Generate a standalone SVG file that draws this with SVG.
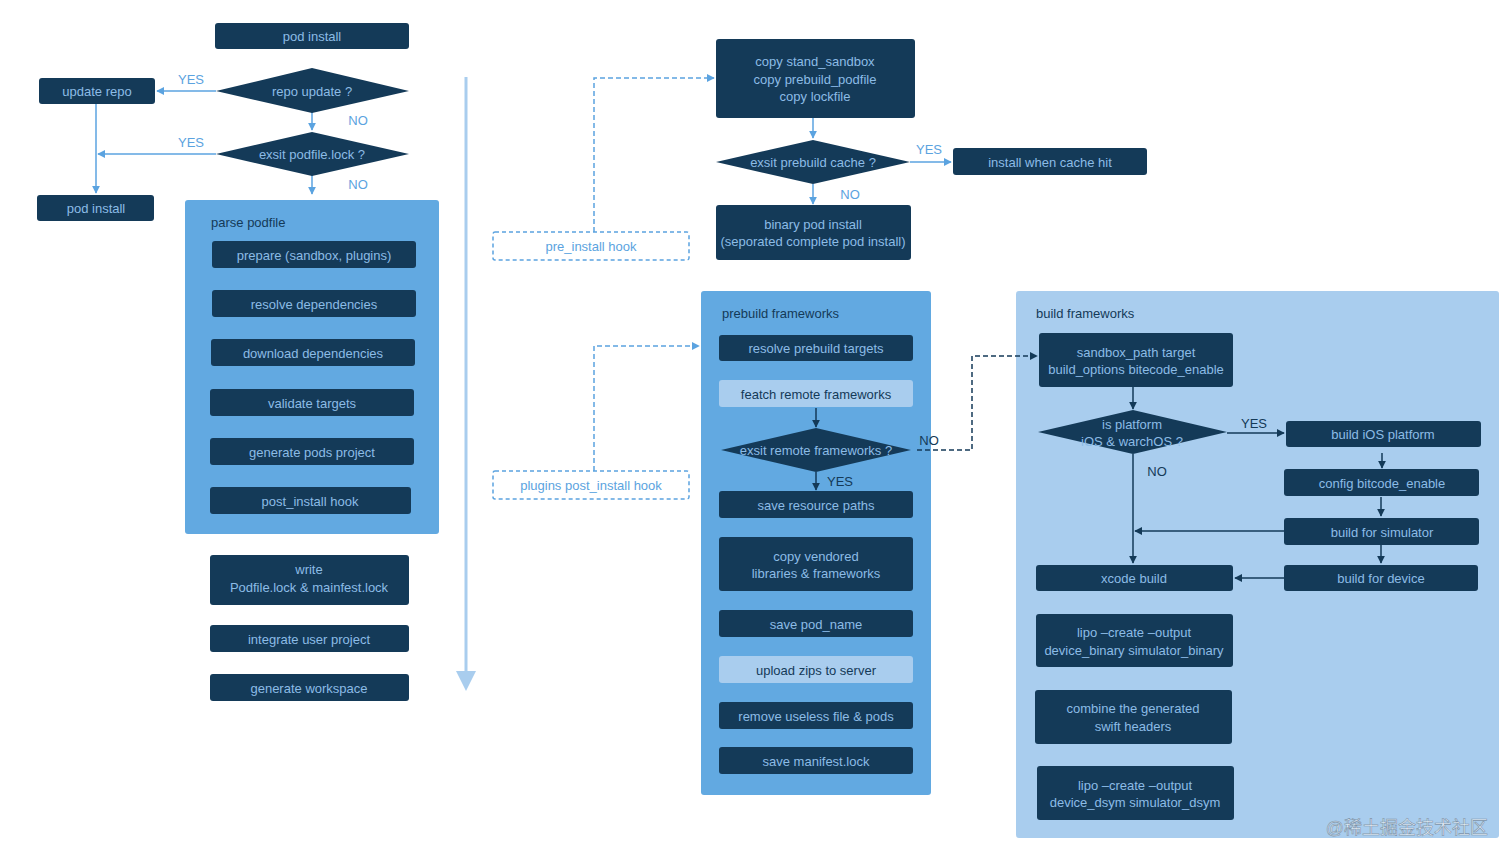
<svg xmlns="http://www.w3.org/2000/svg" width="1512" height="862" viewBox="0 0 1512 862">
<defs>
<style>
.n{fill:#143a58}
.l{fill:#a9cdee}
.t{font-family:"Liberation Sans",Arial,sans-serif;font-size:13px;fill:#8cbce6;text-anchor:middle;dominant-baseline:central}
.td{font-family:"Liberation Sans",Arial,sans-serif;font-size:13px;fill:#143a58;text-anchor:middle;dominant-baseline:central}
.lab{font-family:"Liberation Sans",Arial,sans-serif;font-size:13px;fill:#143a58;dominant-baseline:central}
.yn{font-family:"Liberation Sans",Arial,sans-serif;font-size:13px;fill:#5ba3e0;text-anchor:middle;dominant-baseline:central}
.ynd{font-family:"Liberation Sans",Arial,sans-serif;font-size:13px;fill:#143a58;text-anchor:middle;dominant-baseline:central}
.c{fill:none;stroke:#5ba3e0;stroke-width:1.5}
.cd{fill:none;stroke:#143a58;stroke-width:1.5}
.dash{stroke-dasharray:5 3}
.hb{fill:none;stroke:#5ba3e0;stroke-width:1.5;stroke-dasharray:4 3}
</style>
<marker id="ab" viewBox="0 0 10 10" refX="9" refY="5" markerWidth="8" markerHeight="8" markerUnits="userSpaceOnUse" orient="auto"><path d="M0,0 L10,5 L0,10 z" fill="#5ba3e0"/></marker>
<marker id="ad" viewBox="0 0 10 10" refX="9" refY="5" markerWidth="8" markerHeight="8" markerUnits="userSpaceOnUse" orient="auto"><path d="M0,0 L10,5 L0,10 z" fill="#143a58"/></marker>
</defs>
<rect width="1512" height="862" fill="#ffffff"/>

<!-- containers -->
<g id="parse-podfile"><rect x="185" y="200" width="254" height="334" rx="3" fill="#62a9e1"/><text class="lab" x="211" y="222">parse podfile</text></g>
<g id="prebuild-frameworks"><rect x="701" y="291" width="230" height="504" rx="3" fill="#62a9e1"/><text class="lab" x="722" y="313">prebuild frameworks</text></g>
<g id="build-frameworks"><rect x="1016" y="291" width="483" height="547" rx="3" fill="#a9cdee"/><text class="lab" x="1036" y="313">build frameworks</text></g>

<!-- connectors -->
<g id="connectors">
<line class="c" x1="216" y1="91" x2="157" y2="91" marker-end="url(#ab)"/>
<line class="c" x1="312" y1="112" x2="312" y2="130" marker-end="url(#ab)"/>
<line class="c" x1="216" y1="154" x2="98" y2="154" marker-end="url(#ab)"/>
<line class="c" x1="96" y1="104" x2="96" y2="193" marker-end="url(#ab)"/>
<line class="c" x1="312" y1="175" x2="312" y2="194" marker-end="url(#ab)"/>
<line x1="466" y1="77" x2="466" y2="672" stroke="#a9cdee" stroke-width="3"/>
<path d="M456,671 L476,671 L466,691 z" fill="#a9cdee"/>
<path class="c dash" d="M594,232 L594,78 L714,78" marker-end="url(#ab)"/>
<line class="c" x1="813" y1="118" x2="813" y2="138" marker-end="url(#ab)"/>
<line class="c" x1="910" y1="162" x2="951" y2="162" marker-end="url(#ab)"/>
<line class="c" x1="813" y1="184" x2="813" y2="204" marker-end="url(#ab)"/>
<path class="c dash" d="M594,471 L594,346 L699,346" marker-end="url(#ab)"/>
<line class="cd" x1="816" y1="408" x2="816" y2="427" marker-end="url(#ad)"/>
<line class="cd" x1="816" y1="472" x2="816" y2="490" marker-end="url(#ad)"/>
<path class="cd dash" d="M917,450 L972,450 L972,356 L1037,356" marker-end="url(#ad)"/>
<line class="cd" x1="1133" y1="387" x2="1133" y2="409" marker-end="url(#ad)"/>
<line class="cd" x1="1227" y1="433" x2="1284" y2="433" marker-end="url(#ad)"/>
<line class="cd" x1="1382" y1="453" x2="1382" y2="468" marker-end="url(#ad)"/>
<line class="cd" x1="1381" y1="497" x2="1381" y2="516" marker-end="url(#ad)"/>
<line class="cd" x1="1381" y1="545" x2="1381" y2="563" marker-end="url(#ad)"/>
<line class="cd" x1="1284" y1="578" x2="1235" y2="578" marker-end="url(#ad)"/>
<line class="cd" x1="1284" y1="531" x2="1135" y2="531" marker-end="url(#ad)"/>
<line class="cd" x1="1133" y1="454" x2="1133" y2="563" marker-end="url(#ad)"/>
<text class="yn" x="191" y="79">YES</text>
<text class="yn" x="358" y="120">NO</text>
<text class="yn" x="191" y="142">YES</text>
<text class="yn" x="358" y="184">NO</text>
<text class="yn" x="929" y="149">YES</text>
<text class="yn" x="850" y="194">NO</text>
<text class="ynd" x="929" y="440">NO</text>
<text class="ynd" x="840" y="481">YES</text>
<text class="ynd" x="1254" y="423">YES</text>
<text class="ynd" x="1157" y="471">NO</text>
</g>

<!-- left column -->
<g id="pod-install-top"><rect class="n" x="215" y="23" width="194" height="26" rx="3"/><text class="t" x="312" y="36">pod install</text></g>
<g id="repo-update"><polygon class="n" points="216,91 312,68 409,91 312,113"/><text class="t" x="312" y="91">repo update ?</text></g>
<g id="update-repo"><rect class="n" x="39" y="78" width="116" height="26" rx="3"/><text class="t" x="97" y="91">update repo</text></g>
<g id="exsit-podfile-lock"><polygon class="n" points="216,154 312,132 409,154 312,176"/><text class="t" x="312" y="154">exsit podfile.lock ?</text></g>
<g id="pod-install-2"><rect class="n" x="37" y="195" width="117" height="26" rx="3"/><text class="t" x="96" y="208">pod install</text></g>
<g id="prepare"><rect class="n" x="212" y="241" width="204" height="27" rx="3"/><text class="t" x="314" y="255">prepare (sandbox, plugins)</text></g>
<g id="resolve-deps"><rect class="n" x="212" y="290" width="204" height="27" rx="3"/><text class="t" x="314" y="304">resolve dependencies</text></g>
<g id="download-deps"><rect class="n" x="211" y="339" width="204" height="27" rx="3"/><text class="t" x="313" y="353">download dependencies</text></g>
<g id="validate-targets"><rect class="n" x="210" y="389" width="204" height="27" rx="3"/><text class="t" x="312" y="403">validate targets</text></g>
<g id="generate-pods-project"><rect class="n" x="210" y="438" width="204" height="27" rx="3"/><text class="t" x="312" y="452">generate pods project</text></g>
<g id="post-install-hook"><rect class="n" x="210" y="487" width="201" height="27" rx="3"/><text class="t" x="310" y="501">post_install hook</text></g>
<g id="write-lock"><rect class="n" x="210" y="555" width="199" height="50" rx="3"/><text class="t" x="309" y="569">write</text><text class="t" x="309" y="587">Podfile.lock &amp; mainfest.lock</text></g>
<g id="integrate-user-project"><rect class="n" x="210" y="625" width="199" height="27" rx="3"/><text class="t" x="309" y="639">integrate user project</text></g>
<g id="generate-workspace"><rect class="n" x="210" y="674" width="199" height="27" rx="3"/><text class="t" x="309" y="688">generate workspace</text></g>

<!-- middle -->
<g id="pre-install-hook"><rect class="hb" x="493" y="232" width="196" height="28" rx="2"/><text class="yn" x="591" y="246">pre_install hook</text></g>
<g id="copy-sandbox"><rect class="n" x="716" y="39" width="199" height="79" rx="3"/><text class="t" x="815" y="61">copy stand_sandbox</text><text class="t" x="815" y="79">copy prebuild_podfile</text><text class="t" x="815" y="96">copy lockfile</text></g>
<g id="exsit-prebuild-cache"><polygon class="n" points="716,162 813,140 910,162 813,184"/><text class="t" x="813" y="162">exsit prebuild cache ?</text></g>
<g id="install-cache-hit"><rect class="n" x="953" y="148" width="194" height="27" rx="3"/><text class="t" x="1050" y="162">install when cache hit</text></g>
<g id="binary-pod-install"><rect class="n" x="716" y="205" width="195" height="55" rx="3"/><text class="t" x="813" y="224">binary pod install</text><text class="t" x="813" y="241">(seporated complete pod install)</text></g>
<g id="plugins-post-install-hook"><rect class="hb" x="493" y="471" width="196" height="28" rx="2"/><text class="yn" x="591" y="485">plugins post_install hook</text></g>
<g id="resolve-prebuild-targets"><rect class="n" x="719" y="335" width="194" height="26" rx="3"/><text class="t" x="816" y="348">resolve prebuild targets</text></g>
<g id="featch-remote"><rect class="l" x="719" y="380" width="194" height="27" rx="3"/><text class="td" x="816" y="394">featch remote frameworks</text></g>
<g id="exsit-remote"><polygon class="n" points="721,450 816,428 911,450 816,472"/><text class="t" x="816" y="450">exsit remote frameworks ?</text></g>
<g id="save-resource-paths"><rect class="n" x="719" y="491" width="194" height="27" rx="3"/><text class="t" x="816" y="505">save resource paths</text></g>
<g id="copy-vendored"><rect class="n" x="719" y="537" width="194" height="54" rx="3"/><text class="t" x="816" y="556">copy vendored</text><text class="t" x="816" y="573">libraries &amp; frameworks</text></g>
<g id="save-pod-name"><rect class="n" x="719" y="610" width="194" height="27" rx="3"/><text class="t" x="816" y="624">save pod_name</text></g>
<g id="upload-zips"><rect class="l" x="719" y="656" width="194" height="27" rx="3"/><text class="td" x="816" y="670">upload zips to server</text></g>
<g id="remove-useless"><rect class="n" x="719" y="702" width="194" height="27" rx="3"/><text class="t" x="816" y="716">remove useless file &amp; pods</text></g>
<g id="save-manifest"><rect class="n" x="719" y="747" width="194" height="27" rx="3"/><text class="t" x="816" y="761">save manifest.lock</text></g>

<!-- right -->
<g id="sandbox-path"><rect class="n" x="1039" y="333" width="194" height="54" rx="3"/><text class="t" x="1136" y="352">sandbox_path target</text><text class="t" x="1136" y="369">build_options bitecode_enable</text></g>
<g id="is-platform"><polygon class="n" points="1038,432 1133,410 1227,432 1133,454"/><text class="t" x="1132" y="424">is platform</text><text class="t" x="1132" y="441">iOS &amp; warchOS ?</text></g>
<g id="build-ios"><rect class="n" x="1286" y="421" width="195" height="26" rx="3"/><text class="t" x="1383" y="434">build iOS platform</text></g>
<g id="config-bitcode"><rect class="n" x="1284" y="469" width="195" height="27" rx="3"/><text class="t" x="1382" y="483">config bitcode_enable</text></g>
<g id="build-simulator"><rect class="n" x="1284" y="518" width="195" height="27" rx="3"/><text class="t" x="1382" y="532">build for simulator</text></g>
<g id="build-device"><rect class="n" x="1284" y="565" width="194" height="26" rx="3"/><text class="t" x="1381" y="578">build for device</text></g>
<g id="xcode-build"><rect class="n" x="1036" y="565" width="197" height="26" rx="3"/><text class="t" x="1134" y="578">xcode build</text></g>
<g id="lipo-binary"><rect class="n" x="1036" y="614" width="197" height="53" rx="3"/><text class="t" x="1134" y="632">lipo –create –output</text><text class="t" x="1134" y="650">device_binary simulator_binary</text></g>
<g id="combine-headers"><rect class="n" x="1035" y="690" width="197" height="54" rx="3"/><text class="t" x="1133" y="708">combine the generated</text><text class="t" x="1133" y="726">swift headers</text></g>
<g id="lipo-dsym"><rect class="n" x="1037" y="766" width="197" height="54" rx="3"/><text class="t" x="1135" y="785">lipo –create –output</text><text class="t" x="1135" y="802">device_dsym simulator_dsym</text></g>

<text x="1488" y="828" font-family="'Liberation Sans','Noto Sans CJK SC',sans-serif" font-size="18" fill="#ffffff" fill-opacity="0.7" stroke="#7d93a8" stroke-width="0.6" text-anchor="end" dominant-baseline="central">@稀土掘金技术社区</text>
</svg>
